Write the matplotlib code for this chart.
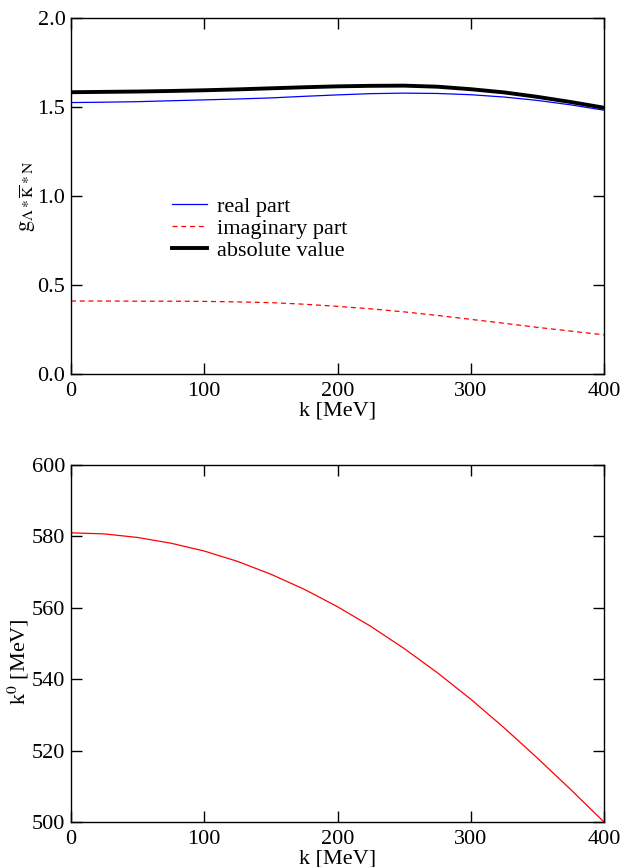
import matplotlib
matplotlib.use("Agg")
import matplotlib.pyplot as plt

# Data
k_top = [0, 25, 50, 75, 100, 125, 150, 175, 200, 225, 250, 275, 300, 325, 350, 375, 400]
g_real = [1.525, 1.527, 1.530, 1.535, 1.540, 1.545, 1.551, 1.560, 1.568, 1.575,
          1.578, 1.576, 1.569, 1.556, 1.537, 1.512, 1.482]
g_imag = [0.410, 0.410, 0.409, 0.409, 0.408, 0.405, 0.401, 0.392, 0.380, 0.366,
          0.349, 0.329, 0.307, 0.285, 0.262, 0.241, 0.220]
g_abs = [1.583, 1.585, 1.587, 1.590, 1.594, 1.599, 1.605, 1.611, 1.616, 1.619,
         1.620, 1.614, 1.600, 1.582, 1.557, 1.528, 1.496]

k_bot = [0, 25, 50, 75, 100, 125, 150, 175, 200, 225, 250, 275, 300, 325, 350, 375, 400]
k0 = [581.0, 580.7, 579.7, 578.1, 575.9, 573.0, 569.4, 565.2, 560.3, 554.8,
      548.6, 541.8, 534.4, 526.4, 517.9, 509.1, 500.0]

x_ticks = [0, 100, 200, 300, 400]
top_yticks = [0.0, 0.5, 1.0, 1.5, 2.0]
bot_yticks = [500, 520, 540, 560, 580, 600]

plt.rcParams['font.family'] = ['Liberation Serif', 'DejaVu Serif']
plt.rcParams['mathtext.fontset'] = 'stix'
plt.rcParams['font.size'] = 16

fig = plt.figure(figsize=(6.24, 8.67), dpi=100)
W, H = 624, 867
L, R = 71, 604
ax1 = fig.add_axes([L / W, 1 - 374 / H, (R - L) / W, (374 - 18) / H])
ax2 = fig.add_axes([L / W, 1 - 822 / H, (R - L) / W, (822 - 465) / H])

ax1.plot(k_top, g_real, color='blue', lw=0.9, label='real part')
ax1.plot(k_top, g_imag, color='red', lw=0.9, ls=(0, (4, 3)), label='imaginary part')
ax1.plot(k_top, g_abs, color='black', lw=2.8, label='absolute value')
ax1.set_xlim(0, 400)
ax1.set_ylim(0, 2.0)
ax1.set_xticks(x_ticks)
ax1.set_yticks(top_yticks)
ax1.set_yticklabels([f"{v:.1f}" for v in top_yticks])
ax1.set_xlabel('k [MeV]', labelpad=0)
ax1.set_ylabel(r'$\mathrm{g}_{\Lambda*\overline{\mathrm{K}}*\mathrm{N}}$', labelpad=0)
leg = ax1.legend(loc='upper left', bbox_to_anchor=(0.19, 0.50), frameon=False,
                 handlelength=1.55, handletextpad=0.45, labelspacing=0.08,
                 borderpad=0, borderaxespad=0, fontsize=16)

ax2.plot(k_bot, k0, color='red', lw=0.9)
ax2.set_xlim(0, 400)
ax2.set_ylim(500, 600)
ax2.set_xticks(x_ticks)
ax2.set_yticks(bot_yticks)
ax2.set_xlabel('k [MeV]', labelpad=0)
ax2.set_ylabel(r'k$^0$ [MeV]', labelpad=2)
ax2.yaxis.set_label_coords(-0.075, 0.45)

for ax in (ax1, ax2):
    ax.tick_params(direction='in', length=8, width=1, top=True, right=True,
                   labelsize=16)
    ax.tick_params(axis='x', pad=6)
    ax.tick_params(axis='y', pad=4)
    for s in ax.spines.values():
        s.set_linewidth(1.0)

fig.savefig('out.png', dpi=100)
